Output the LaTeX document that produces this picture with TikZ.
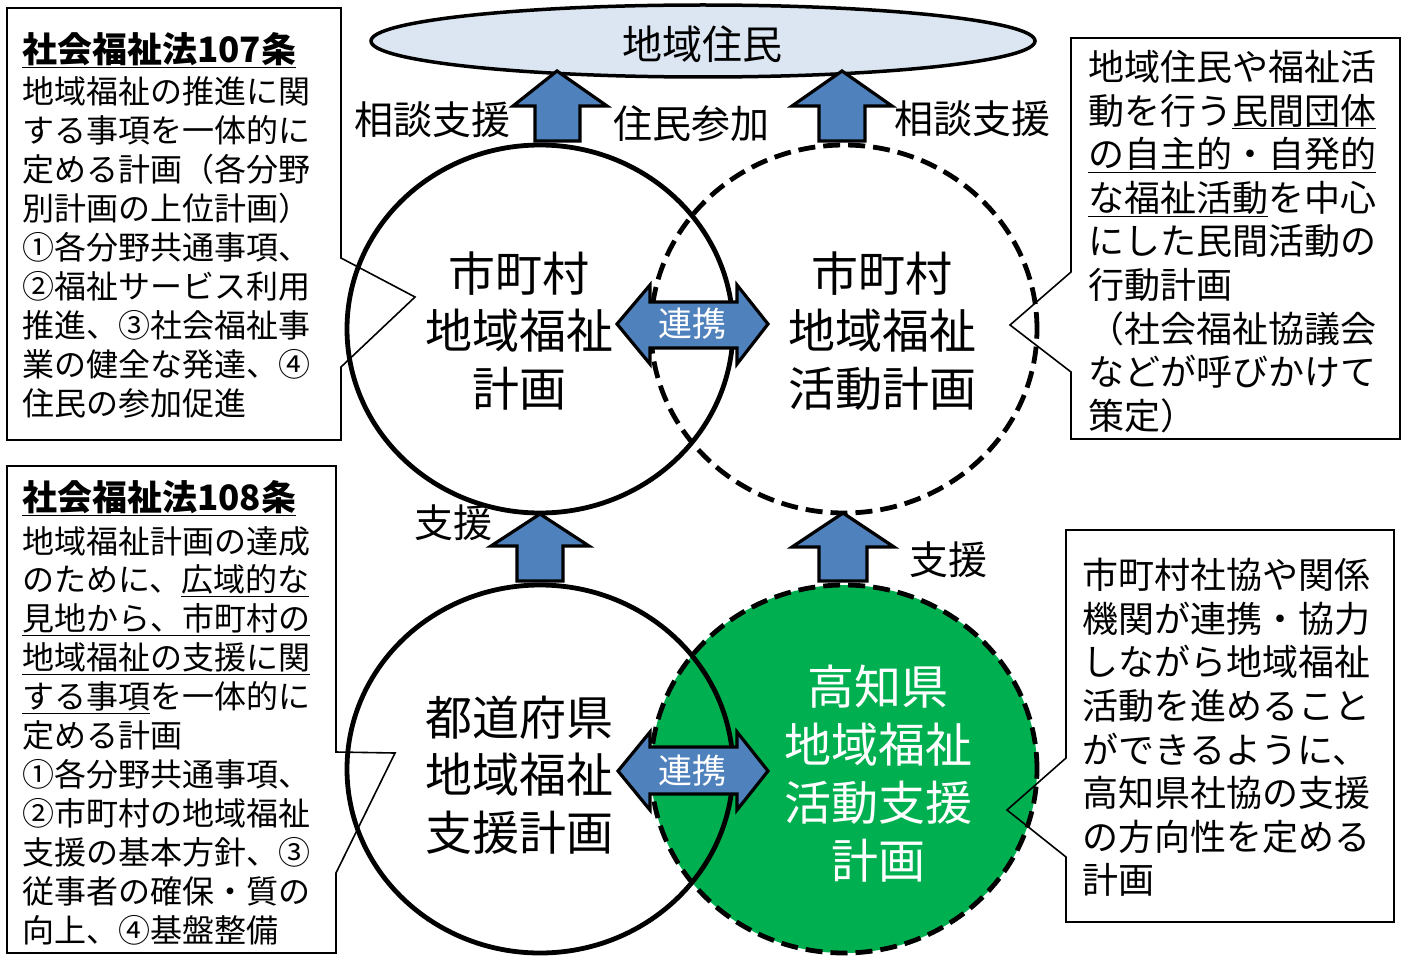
\documentclass[tikz,border=0pt]{standalone}
\usepackage{fontspec}
\setmainfont{Noto Sans CJK JP}
\usetikzlibrary{shapes.geometric}
\definecolor{arrowblue}{HTML}{4F81BD}
\definecolor{skyfill}{HTML}{DCE6F2}
\definecolor{plangreen}{HTML}{00B050}
\newcommand\uln[1]{\underline{#1}}
\begin{document}
\begin{tikzpicture}[x=1pt,y=-1pt,
  plan/.style={ellipse, minimum width=386, minimum height=368, inner sep=0, line width=4.8},
  dashplan/.style={plan, dash pattern=on 17pt off 8pt},
  blockarrow/.style={fill=arrowblue, draw=black, line width=3.2, line join=miter},
  callout/.style={draw=black, line width=1.6, line join=miter},
  bodytext/.style={anchor=west, align=left, inner sep=0},
  smalltext/.style={bodytext, font=\fontsize{32}{38.9}\selectfont},
  bigtext/.style={bodytext, font=\fontsize{36}{43.6}\selectfont},
  titletext/.style={anchor=west, inner sep=0, font=\fontsize{35}{40}\selectfont\bfseries},
  labeltext/.style={inner sep=0, font=\fontsize{39}{44}\selectfont},
  circletext/.style={inner sep=0, align=center, font=\fontsize{47}{57.5}\selectfont},
  linktext/.style={inner sep=0, text=white, font=\fontsize{34}{40}\selectfont}
]
\useasboundingbox (0,0) rectangle (1407,955);

% residents ellipse
\node[ellipse, draw, line width=3.5, fill=skyfill, minimum width=664, minimum height=72, inner sep=0] (res) at (703,41) {};
\node[inner sep=0, font=\fontsize{40}{44}\selectfont] (restext) at (702,44) {地域住民};

% green circle fill
\node[plan, fill=plangreen] (kgreen) at (844,769) {};

% circles
\node[plan, draw] (cityplan) at (540,329) {};
\node[dashplan, draw] (cityact) at (844,329) {};
\node[plan, draw] (prefplan) at (540,769) {};
\node[dashplan, draw] (kochiplan) at (844,769) {};

% callouts
\draw[callout] (7,8) -- (341,8) -- (341,258) -- (415,297) -- (341,367) -- (341,440) -- (7,440) -- cycle;
\draw[callout] (7,466) -- (336,466) -- (336,752) -- (395,753) -- (336,873) -- (336,953) -- (7,953) -- cycle;
\draw[callout] (1071,38) -- (1400,38) -- (1400,439) -- (1071,439) -- (1071,372) -- (1010,325) -- (1071,272) -- cycle;
\draw[callout] (1066,530) -- (1394,530) -- (1394,922) -- (1066,922) -- (1066,857) -- (1007,810) -- (1066,758) -- cycle;

% up arrows
\draw[blockarrow] (557,71) -- (607,106) -- (580,106) -- (580,141) -- (535,141) -- (535,106) -- (513,106) -- cycle;
\draw[blockarrow] (842,71) -- (892,106) -- (865,106) -- (865,141) -- (819,141) -- (819,106) -- (792,106) -- cycle;
\draw[blockarrow] (540,514) -- (589,546) -- (563,546) -- (563,581) -- (517,581) -- (517,546) -- (491,546) -- cycle;
\draw[blockarrow] (843,513) -- (894,547) -- (867,547) -- (867,581) -- (819,581) -- (819,547) -- (792,547) -- cycle;

% double arrows
\draw[blockarrow] (617,324) -- (650,285) -- (650,302) -- (737,302) -- (737,285) -- (768,324) -- (737,364) -- (737,348) -- (650,348) -- (650,364) -- cycle;
\draw[blockarrow] (618,771) -- (650,732) -- (650,747) -- (737,747) -- (737,732) -- (768,771) -- (737,810) -- (737,794) -- (650,794) -- (650,810) -- cycle;
\node[linktext] (link1) at (692,324) {連携};
\node[linktext] (link2) at (692,771) {連携};

% labels
\node[labeltext] (lab1) at (432,120) {相談支援};
\node[labeltext] (lab2) at (691,124) {住民参加};
\node[labeltext] (lab3) at (972,119) {相談支援};
\node[labeltext] (lab4) at (453,523) {支援};
\node[labeltext] (lab5) at (948,560) {支援};

% circle texts
\node[circletext] (t1) at (519,331) {市町村\\地域福祉\\計画};
\node[circletext] (t2) at (882,331) {市町村\\地域福祉\\活動計画};
\node[circletext] (t3) at (519,775) {都道府県\\地域福祉\\支援計画};
\node[circletext, text=white, font=\fontsize{47}{58}\selectfont] (t4) at (878,774) {高知県\\地域福祉\\活動支援\\計画};

% box texts
\node[titletext] (h1) at (22,50) {\uln{社会福祉法107条}};
\node[smalltext] (b1) at (22,247.5) {地域福祉の推進に関\\する事項を一体的に\\定める計画（各分野\\別計画の上位計画）\\①各分野共通事項、\\②福祉サービス利用\\推進、③社会福祉事\\業の健全な発達、④\\住民の参加促進};

\node[titletext] (h2) at (22,498) {\uln{社会福祉法108条}};
\node[smalltext] (b2) at (22,735.5) {地域福祉計画の達成\\のために、\uln{広域的な}\\\uln{見地から、市町村の}\\\uln{地域福祉の支援に関}\\\uln{する事項}を一体的に\\定める計画\\①各分野共通事項、\\②市町村の地域福祉\\支援の基本方針、③\\従事者の確保・質の\\向上、④基盤整備};

\node[bigtext] (b3) at (1088,241.5) {地域住民や福祉活\\動を行う\uln{民間団体}\\\uln{の自主的・自発的}\\\uln{な福祉活動}を中心\\にした民間活動の\\行動計画\\（社会福祉協議会\\などが呼びかけて\\策定）};

\node[bigtext] (b4) at (1082,727.5) {市町村社協や関係\\機関が連携・協力\\しながら地域福祉\\活動を進めること\\ができるように、\\高知県社協の支援\\の方向性を定める\\計画};
\end{tikzpicture}
\end{document}
